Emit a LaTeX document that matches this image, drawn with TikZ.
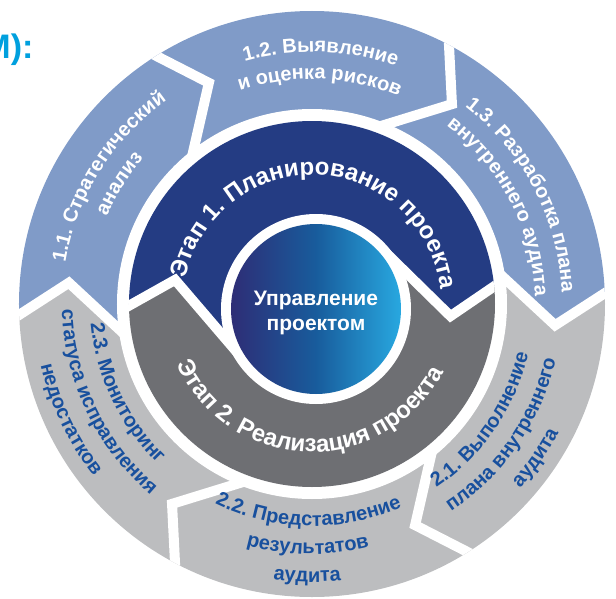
\documentclass[tikz,border=0pt]{standalone}
\usepackage{fontspec}
\setmainfont{Liberation Sans}
\usetikzlibrary{calc,decorations.text}
\definecolor{segblue}{RGB}{128,155,200}
\definecolor{seggray}{RGB}{188,189,191}
\definecolor{stageblue}{RGB}{36,60,131}
\definecolor{stagegray}{RGB}{110,111,115}
\definecolor{textblue}{RGB}{24,80,158}
\definecolor{titlecyan}{RGB}{0,160,222}
\definecolor{hubdark}{RGB}{46,45,118}
\definecolor{hubmid}{RGB}{24,92,156}
\definecolor{hublight}{RGB}{40,168,224}
\newcommand{\segw}{\fontsize{20}{20}\selectfont\bfseries\color{white}}
\newcommand{\segb}{\fontsize{20}{20}\selectfont\bfseries\color{textblue}}
\newcommand{\stagew}{\fontsize{24}{24}\selectfont\bfseries\color{white}}
\begin{document}
\begin{tikzpicture}[x=1pt,y=1pt,
  chevgap/.style={draw=white,line width=10pt,line join=miter},
  hubtext/.style={text=white,font=\fontsize{21}{25}\selectfont\bfseries,align=center}]
\clip (-312,-294) rectangle (304,304);
\node[anchor=base east,text=titlecyan,font=\fontsize{34}{34}\selectfont\bfseries] (title) at (-275,246) {М):};

% outer ring: chevron tips
\coordinate (b1t) at (175:244);
\coordinate (b1o) at ($(175:244)+(265:84)+(175:108)$);
\coordinate (b1i) at ($(175:244)+(265:84)+(355:108)$);
\coordinate (b2t) at (115:244);
\coordinate (b2o) at ($(115:244)+(205:84)+(115:108)$);
\coordinate (b2i) at ($(115:244)+(205:84)+(295:108)$);
\coordinate (b3t) at (55:244);
\coordinate (b3o) at ($(55:244)+(145:84)+(55:108)$);
\coordinate (b3i) at ($(55:244)+(145:84)+(235:108)$);
\coordinate (b4t) at (-5:244);
\coordinate (b4o) at ($(-5:244)+(85:84)+(-5:108)$);
\coordinate (b4i) at ($(-5:244)+(85:84)+(175:108)$);
\coordinate (b5t) at (-65:244);
\coordinate (b5o) at ($(-65:244)+(25:84)+(-65:108)$);
\coordinate (b5i) at ($(-65:244)+(25:84)+(115:108)$);
\coordinate (b6t) at (-125:244);
\coordinate (b6o) at ($(-125:244)+(-35:84)+(-125:108)$);
\coordinate (b6i) at ($(-125:244)+(-35:84)+(55:108)$);

\begin{scope}
\clip (0,0) circle[radius=293];
\fill[segblue] (b1o) -- (b1t) -- (b1i) -- (b2i) -- (b2t) -- (b2o) -- (145:450) -- cycle;
\fill[segblue] (b2o) -- (b2t) -- (b2i) -- (b3i) -- (b3t) -- (b3o) -- (85:450) -- cycle;
\fill[segblue] (b3o) -- (b3t) -- (b3i) -- (b4i) -- (b4t) -- (b4o) -- (25:450) -- cycle;
\fill[seggray] (b4o) -- (b4t) -- (b4i) -- (b5i) -- (b5t) -- (b5o) -- (-35:450) -- cycle;
\fill[seggray] (b5o) -- (b5t) -- (b5i) -- (b6i) -- (b6t) -- (b6o) -- (-95:450) -- cycle;
\fill[seggray] (b6o) -- (b6t) -- (b6i) -- (b1i) -- (b1t) -- (b1o) -- (-155:450) -- cycle;
\draw[chevgap] (b1o) -- (b1t) -- (b1i);
\draw[chevgap] (b2o) -- (b2t) -- (b2i);
\draw[chevgap] (b3o) -- (b3t) -- (b3i);
\draw[chevgap] (b4o) -- (b4t) -- (b4i);
\draw[chevgap] (b5o) -- (b5t) -- (b5i);
\draw[chevgap] (b6o) -- (b6t) -- (b6i);
\end{scope}
\fill[white] (0,0) circle[radius=195];

% middle ring: two stages
\coordinate (m1t) at (170:139);
\coordinate (m1o) at ($(170:139)+(260:90)+(170:110)$);
\coordinate (m1i) at ($(170:139)+(260:65)+(350:79)$);
\coordinate (m2t) at (-5:139);
\coordinate (m2o) at ($(-5:139)+(85:90)+(-5:110)$);
\coordinate (m2i) at ($(-5:139)+(85:65)+(175:79)$);

\begin{scope}
\clip (0,0) circle[radius=183];
\fill[stageblue] (m1o) -- (m1t) -- (m1i) -- (0,0) -- (m2i) -- (m2t) -- (m2o) -- (40:400) -- (85:400) -- (130:400) -- cycle;
\fill[stagegray] (m2o) -- (m2t) -- (m2i) -- (0,0) -- (m1i) -- (m1t) -- (m1o) -- (-140:400) -- (-95:400) -- (-50:400) -- cycle;
\draw[chevgap] (m1o) -- (m1t) -- (m1i);
\draw[chevgap] (m2o) -- (m2t) -- (m2i);
\end{scope}
\fill[white] (4,-5) circle[radius=95];
\shade[left color=hubdark,right color=hublight,middle color=hubmid] (4,-5) circle[radius=85];
\node[hubtext] (hub) at (4,-9) {Управление\\проектом};

% stage labels
\path[decorate,decoration={text along path,text align=center,text={|\stagew|Этап 1. Планирование проекта}}] (177.5:129) arc[start angle=177.5,end angle=-2.5,radius=129];
\path[decorate,decoration={text along path,text align=center,text={|\stagew|Этап 2. Реализация проекта}}] (-181.5:148) arc[start angle=-181.5,end angle=-1.5,radius=148];

% outer labels
\path[decorate,decoration={text along path,text align=center,text={|\segw|1.1. Стратегический}}] (188:250) arc[start angle=188,end angle=108,radius=250];
\path[decorate,decoration={text along path,text align=center,text={|\segw|анализ}}] (188:223) arc[start angle=188,end angle=108,radius=223];
\path[decorate,decoration={text along path,text align=center,text={|\segw|1.2. Выявление}}] (128:252) arc[start angle=128,end angle=48,radius=252];
\path[decorate,decoration={text along path,text align=center,text={|\segw|и оценка рисков}}] (128:225) arc[start angle=128,end angle=48,radius=225];
\path[decorate,decoration={text along path,text align=center,text={|\segw|1.3. Разработка плана}}] (67.5:250) arc[start angle=67.5,end angle=-12.5,radius=250];
\path[decorate,decoration={text along path,text align=center,text={|\segw|внутреннего аудита}}] (67.5:223) arc[start angle=67.5,end angle=-12.5,radius=223];
\path[decorate,decoration={text along path,text align=center,text={|\segb|2.1. Выполнение}}] (-74.5:222) arc[start angle=-74.5,end angle=5.5,radius=222];
\path[decorate,decoration={text along path,text align=center,text={|\segb|плана внутреннего}}] (-74.5:250) arc[start angle=-74.5,end angle=5.5,radius=250];
\path[decorate,decoration={text along path,text align=center,text={|\segb|аудита}}] (-74.5:278) arc[start angle=-74.5,end angle=5.5,radius=278];
\path[decorate,decoration={text along path,text align=center,text={|\segb|2.2. Представление}}] (-131:222) arc[start angle=-131,end angle=-51,radius=222];
\path[decorate,decoration={text along path,text align=center,text={|\segb|результатов}}] (-131:250) arc[start angle=-131,end angle=-51,radius=250];
\path[decorate,decoration={text along path,text align=center,text={|\segb|аудита}}] (-131:278) arc[start angle=-131,end angle=-51,radius=278];
\path[decorate,decoration={text along path,text align=center,text={|\segb|2.3. Мониторинг}}] (-194.5:222) arc[start angle=-194.5,end angle=-114.5,radius=222];
\path[decorate,decoration={text along path,text align=center,text={|\segb|статуса исправления}}] (-194.5:250) arc[start angle=-194.5,end angle=-114.5,radius=250];
\path[decorate,decoration={text along path,text align=center,text={|\segb|недостатков}}] (-194.5:278) arc[start angle=-194.5,end angle=-114.5,radius=278];
\end{tikzpicture}
\end{document}
